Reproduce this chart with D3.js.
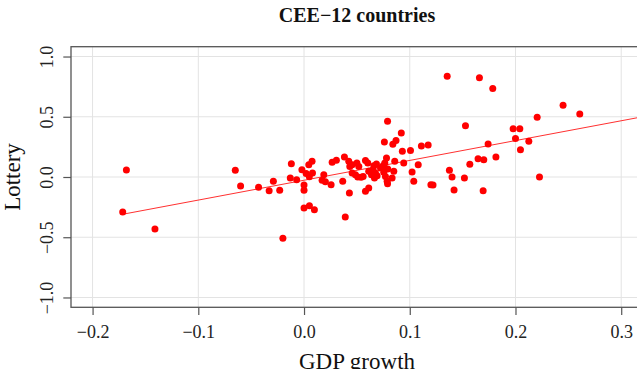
<!DOCTYPE html>
<html>
<head>
<meta charset="utf-8">
<script src="https://cdnjs.cloudflare.com/ajax/libs/d3/7.8.5/d3.min.js"></script>
<style>
body { margin: 0; background: #fff; }
text { font-family: 'Liberation Serif', 'Times New Roman', serif; }
</style>
</head>
<body>
<script>
/* global d3 */

// Data
const gdpGrowth = [
    -0.1715, -0.168, -0.141, -0.065, -0.060, -0.043, -0.033, -0.029, -0.023, -0.020,
    -0.012, -0.013, -0.007, -0.002, 0.000, 0.000, 0.000, 0.002, 0.0045, 0.0076,
    0.005, 0.008, 0.0051, 0.0098, 0.0187, 0.0171, 0.0202, 0.0256, 0.0266, 0.0306,
    0.0366, 0.0382, 0.0429, 0.039, 0.0423, 0.0455, 0.0433, 0.050, 0.0455, 0.0486,
    0.0508, 0.0518, 0.054, 0.0559, 0.0581, 0.0603, 0.0612, 0.0660, 0.0685, 0.0653,
    0.0675, 0.0638, 0.0691, 0.0666, 0.0723, 0.0748, 0.0764, 0.0780, 0.0792, 0.0754,
    0.0770, 0.0786, 0.079, 0.0833, 0.0849, 0.0858, 0.0943, 0.1022, 0.1038, 0.0612,
    0.0581, 0.076, 0.079, 0.084, 0.087, 0.092, 0.093, 0.1007, 0.108, 0.111,
    0.1174, 0.120, 0.122, 0.1354, 0.1375, 0.140, 0.1419, 0.1517, 0.1527, 0.1568,
    0.1646, 0.1659, 0.170, 0.1694, 0.1741, 0.1785, 0.1815, 0.1978, 0.2041, 0.2000,
    0.2047, 0.2126, 0.2205, 0.2227, 0.245, 0.2608
];
const lottery = [
    -0.291, 0.058, -0.432, 0.056, -0.075, -0.086, -0.114, -0.036, -0.111, -0.508,
    0.111, -0.009, -0.022, 0.061, -0.066, -0.111, -0.258, 0.030, 0.102, 0.130,
    0.003, 0.033, -0.239, -0.272, 0.019, -0.028, -0.040, -0.064, 0.122, 0.140,
    -0.036, 0.166, -0.133, -0.333, 0.130, 0.102, 0.088, 0.116, 0.033, 0.019,
    0.000, 0.088, -0.002, 0.005, 0.138, 0.116, 0.047, 0.094, 0.107, 0.061,
    0.033, 0.019, 0.011, -0.008, 0.075, 0.094, 0.116, 0.158, 0.066, 0.039,
    0.005, -0.036, -0.056, -0.008, 0.047, 0.130, 0.116, 0.041, -0.036, -0.092,
    -0.119, 0.291, 0.463, 0.271, 0.302, 0.366, 0.213, 0.221, 0.102, 0.258,
    0.266, -0.064, -0.067, 0.836, 0.055, 0.000, -0.108, -0.008, 0.426, 0.105,
    0.152, 0.823, 0.144, -0.114, 0.274, 0.734, 0.166, 0.401, 0.401, 0.319,
    0.227, 0.296, 0.496, 0.000, 0.595, 0.523
];
const xTicks = [-0.2, -0.1, 0.0, 0.1, 0.2, 0.3];
const yTicks = [-1.0, -0.5, 0.0, 0.5, 1.0];
const fitIntercept = -0.027;
const fitSlope = 1.646;
const fitRange = [-0.171, 0.33];

const points = gdpGrowth.map((g, i) => ({ x: g, y: lottery[i] }));

// SVG setup
const width = 637;
const height = 369;
const plot = { left: 71, right: 643, top: 46.7, bottom: 307.3 };

const svg = d3.select('body')
.append('svg')
.attr('width', width)
.attr('height', height);

const xScale = d3.scaleLinear()
.domain([-0.2204, 0.3206])
.range([plot.left, plot.right]);

const yScale = d3.scaleLinear()
.domain([-1.0816, 1.0816])
.range([plot.bottom, plot.top]);

svg.append('clipPath')
.attr('id', 'plot-clip')
.append('rect')
.attr('x', plot.left)
.attr('y', plot.top)
.attr('width', plot.right - plot.left)
.attr('height', plot.bottom - plot.top);

// Grid
svg.append('g')
.selectAll('line')
.data(xTicks)
.enter()
.append('line')
.attr('x1', d => xScale(d))
.attr('x2', d => xScale(d))
.attr('y1', plot.top)
.attr('y2', plot.bottom)
.attr('stroke', '#e3e3e3')
.attr('stroke-width', 1);

svg.append('g')
.selectAll('line')
.data(yTicks)
.enter()
.append('line')
.attr('x1', plot.left)
.attr('x2', plot.right)
.attr('y1', d => yScale(d))
.attr('y2', d => yScale(d))
.attr('stroke', '#e3e3e3')
.attr('stroke-width', 1);

// Fit line
const fitLine = d3.line()
.x(d => xScale(d))
.y(d => yScale(fitIntercept + fitSlope * d));

svg.append('path')
.datum(fitRange)
.attr('clip-path', 'url(#plot-clip)')
.attr('d', fitLine)
.attr('fill', 'none')
.attr('stroke', '#ff3030')
.attr('stroke-width', 1);

// Points
svg.append('g')
.selectAll('circle')
.data(points)
.enter()
.append('circle')
.attr('cx', d => xScale(d.x))
.attr('cy', d => yScale(d.y))
.attr('r', 3.5)
.attr('fill', '#ff0000');

// Box
svg.append('rect')
.attr('x', plot.left)
.attr('y', plot.top)
.attr('width', plot.right - plot.left)
.attr('height', plot.bottom - plot.top)
.attr('fill', 'none')
.attr('stroke', '#555')
.attr('stroke-width', 1.3);

// Axes
const xAxis = svg.append('g')
.attr('transform', `translate(0,${ plot.bottom })`)
.call(d3.axisBottom(xScale).tickValues(xTicks).tickFormat(d3.format('.1f')).tickSize(7.7).tickPadding(10));

const yAxis = svg.append('g')
.attr('transform', `translate(${ plot.left },0)`)
.call(d3.axisLeft(yScale).tickValues(yTicks).tickFormat(d3.format('.1f')).tickSize(7.7));

[xAxis, yAxis].forEach(axis => {
    axis.select('.domain').remove();
    axis.selectAll('line').attr('stroke', '#555').attr('stroke-width', 1.2);
    axis.selectAll('text')
    .attr('fill', '#222')
    .style('font-size', '18px')
    .style('font-family', "'Liberation Serif', serif");
});

yAxis.selectAll('text')
.attr('x', null)
.attr('dy', null)
.attr('text-anchor', 'middle')
.attr('transform', 'translate(-18,0) rotate(-90)');

// Labels
svg.append('text')
.text('CEE\u221212 countries')
.attr('x', (plot.left + plot.right) / 2)
.attr('y', 21.5)
.attr('text-anchor', 'middle')
.attr('font-weight', 'bold')
.attr('font-size', '20px')
.attr('fill', '#111');

svg.append('text')
.text('GDP growth')
.attr('x', (plot.left + plot.right) / 2)
.attr('y', 369)
.attr('text-anchor', 'middle')
.attr('font-size', '23px')
.attr('fill', '#111');

svg.append('text')
.text('Lottery')
.attr('transform', `translate(20,${ (plot.top + plot.bottom) / 2 }) rotate(-90)`)
.attr('text-anchor', 'middle')
.attr('font-size', '23px')
.attr('fill', '#111');
</script>
</body>
</html>
